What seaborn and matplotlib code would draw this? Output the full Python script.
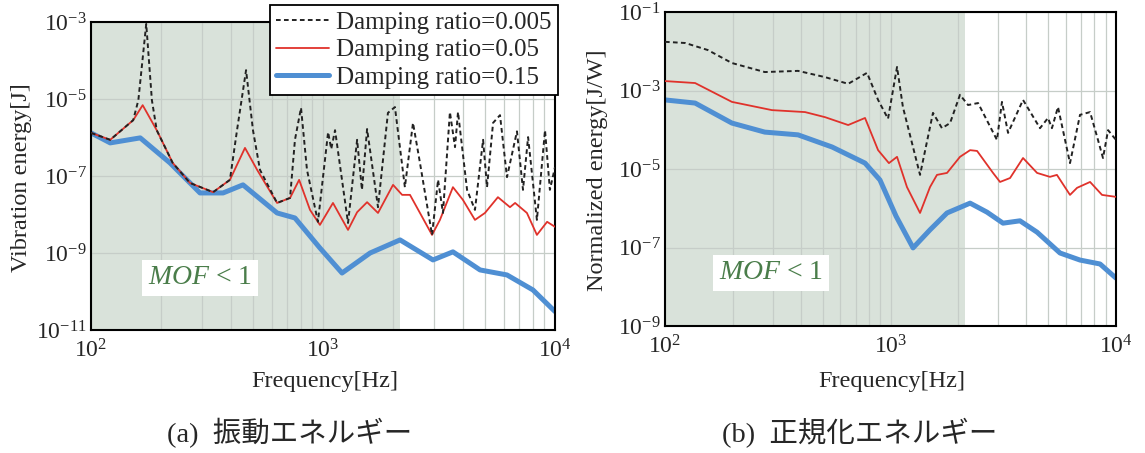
import numpy as np
import pandas as pd
import matplotlib
matplotlib.use("Agg")
import matplotlib.pyplot as plt
import seaborn as sns
from matplotlib.ticker import FixedLocator, NullFormatter

sns.set_style("white")
plt.rcParams["font.family"] = ["Liberation Serif", "Noto Sans CJK JP"]
plt.rcParams["mathtext.fontset"] = "custom"
plt.rcParams["mathtext.rm"] = "Liberation Serif"
plt.rcParams["mathtext.it"] = "Liberation Serif:italic"

# ---------------- data (frequency in Hz, log10 of value) ----------------
series_labels = ["Damping ratio=0.005", "Damping ratio=0.05", "Damping ratio=0.15"]

# (a) vibration energy [J]
a_f_005 = [100, 121, 152, 160, 173, 183, 192, 225, 267, 336, 397, 426, 466, 499, 535, 634, 721, 757,
           804, 853, 951, 1052, 1085, 1127, 1282, 1403, 1472, 1549, 1726, 1905, 2042, 2254, 2443, 2618,
           2951, 3133, 3289, 3524, 3707, 3819, 4178, 4519, 4898, 5093, 5408, 5794, 6209, 6855, 7278,
           7656, 8356, 9057, 9506, 10000]
a_e_005 = [-5.88, -6.06, -5.55, -5.03, -3.05, -5.03, -5.81, -6.66, -7.18, -7.42, -7.10, -5.81, -4.25,
           -5.81, -6.84, -7.70, -7.57, -6.06, -5.23, -6.84, -8.19, -5.86, -6.30, -5.81, -8.22, -6.06,
           -7.36, -5.78, -7.81, -5.36, -5.21, -7.29, -5.62, -6.66, -8.53, -7.10, -7.96, -5.34, -6.25,
           -5.34, -7.36, -7.88, -6.06, -7.29, -5.62, -5.42, -7.03, -5.84, -7.36, -5.99, -8.14, -5.81,
           -7.36, -6.77]

a_f_05 = [100, 121, 152, 167, 192, 225, 267, 336, 397, 461, 520, 634, 721, 789, 879, 970, 1104, 1282,
          1403, 1549, 1726, 2004, 2193, 2371, 2618, 2951, 3192, 3631, 4009, 4519, 4989, 5675, 6397,
          6730, 7568, 8356, 9247, 10000]
a_e_05 = [-5.88, -6.06, -5.55, -5.16, -5.81, -6.66, -7.18, -7.42, -7.10, -6.27, -6.84, -7.70, -7.57,
          -7.10, -7.88, -8.27, -7.70, -8.40, -7.94, -7.68, -7.96, -7.23, -7.49, -7.49, -7.96, -8.53,
          -8.14, -7.29, -7.62, -8.14, -7.96, -7.55, -7.81, -7.70, -7.96, -8.53, -8.19, -8.32]

a_f_15 = [100, 121, 163, 219, 295, 371, 452, 634, 757, 970, 1208, 1596, 2148, 2979, 3631, 4753, 6209,
          8035, 10000]
a_e_15 = [-5.88, -6.14, -6.01, -6.66, -7.44, -7.44, -7.23, -7.96, -8.09, -8.87, -9.52, -9.00, -8.66,
          -9.18, -8.97, -9.44, -9.57, -9.96, -10.52]

# (b) normalized energy [J/W]
b_f_005 = [100, 123, 155, 198, 277, 389, 513, 649, 787, 881, 975, 1069, 1135, 1352, 1543, 1691, 1837,
           2033, 2208, 2445, 2966, 3121, 3321, 3870, 4603, 4994, 5199, 5530, 6252, 6925, 7674, 8320,
           8756, 9225, 10000]
b_e_005 = [-1.76, -1.79, -1.97, -2.30, -2.53, -2.50, -2.66, -2.83, -2.55, -3.24, -3.72, -2.40, -3.42,
           -5.15, -3.57, -3.96, -3.83, -3.11, -3.37, -3.32, -4.26, -3.29, -4.08, -3.24, -3.96, -3.70,
           -3.96, -3.42, -4.85, -3.62, -3.55, -4.26, -4.72, -4.01, -4.26]

b_f_05 = [100, 136, 198, 298, 418, 513, 649, 771, 881, 984, 1069, 1183, 1352, 1497, 1607, 1781, 2033,
          2254, 2421, 2849, 3060, 3390, 3870, 4467, 5093, 5470, 6252, 6719, 7674, 8670, 10000]
b_e_05 = [-2.76, -2.81, -3.29, -3.50, -3.55, -3.68, -3.88, -3.70, -4.52, -4.85, -4.69, -5.46, -6.12,
          -5.46, -5.15, -5.10, -4.69, -4.52, -4.54, -5.10, -5.33, -5.23, -4.72, -5.10, -5.20, -5.15,
          -5.66, -5.48, -5.33, -5.66, -5.71]

b_f_15 = [100, 136, 198, 277, 389, 551, 771, 898, 1058, 1259, 1497, 1781, 2254, 2680, 3155, 3751, 4467,
          5645, 6925, 8496, 10000]
b_e_15 = [-3.24, -3.32, -3.83, -4.06, -4.13, -4.44, -4.85, -5.28, -6.20, -7.01, -6.55, -6.12, -5.87,
          -6.10, -6.38, -6.32, -6.61, -7.14, -7.32, -7.42, -7.78]

mof_limit = 2150  # Hz, upper edge of the shaded MOF<1 band

a_yticks = [-11, -9, -7, -5, -3]
b_yticks = [-9, -7, -5, -3, -1]
x_ticks = [2, 3, 4]

# ---------------- styling ----------------
styles = {
    series_labels[0]: dict(color="#222222", lw=1.4, ls=(0, (2.4, 1.7)), z=4),
    series_labels[1]: dict(color="#e0322b", lw=1.3, ls="-", z=3),
    series_labels[2]: dict(color="#4f8fd3", lw=3.6, ls="-", z=2),
}
shade = "#d9e2da"
gridc = "#c6cdc8"
mof_color = "#4a7d4a"

W, H = 1145, 453
fig = plt.figure(figsize=(W / 100, H / 100), dpi=100)
fig.patch.set_facecolor("white")

def px_rect(x0, y0, x1, y1):
    return [x0 / W, 1 - y1 / H, (x1 - x0) / W, (y1 - y0) / H]

ax_a = fig.add_axes(px_rect(91, 22, 555, 330))
ax_b = fig.add_axes(px_rect(665, 12, 1116, 326))

panels = [
    (ax_a, [(a_f_005, a_e_005), (a_f_05, a_e_05), (a_f_15, a_e_15)], (-11, -3), a_yticks),
    (ax_b, [(b_f_005, b_e_005), (b_f_05, b_e_05), (b_f_15, b_e_15)], (-9, -1), b_yticks),
]

for ax, data, ylim, yt in panels:
    ax.set_facecolor("white")
    ax.axvspan(100, mof_limit, color=shade, zorder=0.1, lw=0)
    for lab, (f, e) in zip(series_labels, data):
        df = pd.DataFrame({"freq": f, "energy": 10.0 ** np.array(e)})
        st = styles[lab]
        sns.lineplot(data=df, x="freq", y="energy", ax=ax, color=st["color"], linewidth=st["lw"],
                     linestyle=st["ls"], estimator=None, sort=False, label=lab, zorder=st["z"],
                     legend=False)
    ax.set_xscale("log")
    ax.set_yscale("log")
    ax.set_xlim(100, 10000)
    ax.set_ylim(10.0 ** ylim[0], 10.0 ** ylim[1])
    ax.xaxis.set_major_locator(FixedLocator([10.0 ** k for k in x_ticks]))
    ax.xaxis.set_minor_locator(FixedLocator([m * 10.0 ** k for k in (2, 3) for m in range(2, 10)]))
    ax.xaxis.set_minor_formatter(NullFormatter())
    ax.set_xticklabels([r"$\mathregular{10^{%d}}$" % k for k in x_ticks])
    ax.yaxis.set_major_locator(FixedLocator([10.0 ** k for k in yt]))
    ax.yaxis.set_minor_locator(FixedLocator([]))
    ax.set_yticklabels([r"$\mathregular{10^{%d}}$" % k for k in yt])
    ax.tick_params(axis="both", which="both", length=0, labelsize=17)
    ax.tick_params(axis="x", pad=7)
    ax.tick_params(axis="y", pad=3)
    ax.grid(True, axis="x", which="both", color=gridc, lw=0.9, zorder=0.5)
    ax.grid(True, axis="y", which="major", color=gridc, lw=0.9, zorder=0.5)
    ax.set_axisbelow(True)
    ax.set_xlabel("")
    ax.set_ylabel("")
    for sp in ax.spines.values():
        sp.set_visible(True)
        sp.set_color("black")
        sp.set_linewidth(1.5)
    ax.text(0.235, 0.17, r"$\mathit{MOF}$ < 1", transform=ax.transAxes, ha="center", va="center",
            fontsize=20, color=mof_color, zorder=6,
            bbox=dict(boxstyle="square,pad=0.2", facecolor="white", edgecolor="none"))

# legend
handles, labels = ax_a.get_legend_handles_labels()
order = [labels.index(l) for l in series_labels]
leg = ax_a.legend([handles[i] for i in order], [labels[i] for i in order], loc="upper right",
                  bbox_to_anchor=(1.006, 1.055), borderaxespad=0, frameon=True, fancybox=False,
                  framealpha=1, edgecolor="black", fontsize=18, handlelength=2.1, handletextpad=0.3,
                  labelspacing=0.2, borderpad=0.25)
leg.get_frame().set_linewidth(1.3)
leg.set_zorder(10)

# axis labels and captions
fig.text(22 / W, 1 - 178 / H, "Vibration energy[J]", rotation=90, ha="center", va="center", fontsize=17.5)
fig.text(597 / W, 1 - 170 / H, "Normalized energy[J/W]", rotation=90, ha="center", va="center", fontsize=17.5)
fig.text(325 / W, 1 - 381 / H, "Frequency[Hz]", ha="center", va="center", fontsize=17.5)
fig.text(892 / W, 1 - 381 / H, "Frequency[Hz]", ha="center", va="center", fontsize=17.5)
fig.text(290 / W, 1 - 433 / H, "(a)  振動エネルギー", ha="center", va="center", fontsize=20.5)
fig.text(860 / W, 1 - 433 / H, "(b)  正規化エネルギー", ha="center", va="center", fontsize=20.5)

fig.savefig("out.png", dpi=100, facecolor="white")
